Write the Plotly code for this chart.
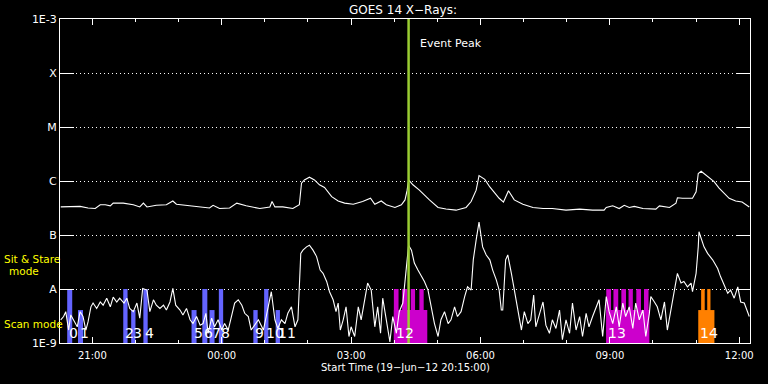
import plotly.graph_objects as go
import pandas as pd

# ---------------- data ----------------
start_time = "2012-06-19 20:15:00"
end_time = "2012-06-20 12:15:00"
event_peak = "2012-06-20 04:20:00"

# Long channel (1-8 A): minutes after start, log10 flux (W/m^2)
long_min = [1, 14, 28, 39, 49, 56, 63, 70, 74, 88, 102, 111, 116, 121, 134, 148, 157, 162, 176, 195,
            208, 213, 222, 236, 246, 259, 273, 278, 292, 295, 299, 310, 324, 333, 336, 340, 347, 354, 361, 368,
            378, 387, 396, 408, 421, 432, 438, 447, 454, 466, 475, 480, 483, 485, 491, 500, 514, 526, 537, 551,
            565, 572, 579, 583, 591, 598, 611, 617, 624, 632, 644, 658, 672, 685, 704, 723, 741, 757, 760, 769,
            778, 785, 792, 799, 811, 829, 834, 848, 857, 859, 866, 880, 885, 888, 892, 901, 910, 917, 931, 940,
            949, 959]
long_log = [-6.48, -6.48, -6.47, -6.50, -6.51, -6.44, -6.44, -6.46, -6.41, -6.41, -6.44, -6.48, -6.41, -6.48,
            -6.45, -6.44, -6.37, -6.43, -6.45, -6.48, -6.50, -6.45, -6.51, -6.50, -6.41, -6.46, -6.49, -6.51,
            -6.48, -6.38, -6.48, -6.48, -6.51, -6.44, -6.04, -5.98, -5.93, -5.98, -6.07, -6.12, -6.29, -6.37,
            -6.41, -6.43, -6.38, -6.32, -6.43, -6.37, -6.44, -6.49, -6.44, -6.35, -6.17, -5.98, -6.07, -6.17,
            -6.35, -6.49, -6.52, -6.54, -6.49, -6.38, -6.17, -5.90, -5.97, -6.11, -6.32, -6.39, -6.18, -6.35,
            -6.43, -6.49, -6.51, -6.51, -6.54, -6.52, -6.54, -6.54, -6.49, -6.46, -6.51, -6.45, -6.49, -6.47,
            -6.51, -6.52, -6.46, -6.49, -6.41, -6.31, -6.32, -6.32, -6.20, -5.86, -5.82, -5.92, -6.01, -6.13,
            -6.32, -6.37, -6.39, -6.48]

# Short channel (0.5-4 A): minutes after start, log10 flux
short_min = [1, 5, 8, 12, 15, 19, 24, 28, 32, 36, 39, 43, 46, 51, 56, 60, 65, 70, 74, 79,
             83, 89, 93, 97, 102, 107, 111, 115, 121, 125, 130, 134, 139, 144, 148, 153, 157, 161, 167, 171,
             176, 181, 185, 190, 195, 199, 203, 206, 211, 215, 220, 225, 229, 234, 239, 243, 248, 253, 257, 262,
             266, 271, 276, 283, 287, 292, 294, 299, 303, 308, 313, 317, 322, 327, 331, 335, 338, 343, 347, 352,
             357, 362, 366, 371, 375, 380, 384, 387, 390, 394, 398, 402, 405, 410, 415, 419, 424, 428, 433, 438,
             442, 446, 449, 454, 459, 463, 468, 472, 477, 482, 485, 489, 493, 498, 503, 507, 512, 517, 521, 526,
             530, 535, 540, 544, 549, 553, 558, 563, 567, 572, 575, 579, 583, 588, 593, 598, 602, 607, 611, 614,
             616, 620, 623, 628, 632, 637, 642, 646, 651, 655, 659, 662, 667, 672, 676, 681, 685, 690, 695, 699,
             704, 709, 713, 718, 723, 727, 732, 736, 741, 746, 750, 755, 760, 764, 769, 774, 778, 783, 787, 792,
             797, 801, 806, 811, 815, 820, 822, 827, 831, 836, 841, 845, 850, 855, 859, 864, 868, 873, 878, 880,
             885, 888, 889, 896, 901, 908, 915, 919, 924, 929, 933, 938, 943, 947, 952, 956, 959]
short_log = [-8.57, -8.51, -8.42, -8.76, -8.48, -8.57, -8.70, -8.42, -8.51, -8.76, -8.61, -8.33, -8.26, -8.36,
             -8.24, -8.30, -8.17, -8.33, -8.15, -8.24, -8.17, -8.26, -8.17, -8.36, -8.42, -8.26, -8.54, -7.99,
             -8.02, -8.42, -8.20, -8.30, -8.36, -8.30, -8.39, -8.24, -7.99, -8.30, -8.39, -8.48, -8.36, -8.57,
             -8.64, -8.51, -8.67, -8.64, -8.45, -8.82, -8.54, -8.70, -8.57, -8.76, -8.64, -8.76, -8.48, -8.26,
             -8.20, -8.30, -8.45, -8.51, -8.76, -8.67, -8.57, -8.76, -8.51, -8.20, -8.05, -8.57, -8.73, -8.57,
             -8.64, -8.45, -8.33, -8.70, -8.57, -7.34, -7.28, -7.22, -7.19, -7.28, -7.40, -7.65, -7.71, -7.86,
             -8.05, -8.20, -8.42, -8.26, -8.76, -8.57, -8.33, -8.88, -8.70, -8.88, -8.33, -8.57, -8.20, -7.89,
             -8.02, -8.70, -8.33, -8.82, -8.17, -8.57, -8.98, -8.51, -8.82, -8.42, -8.26, -7.59, -7.19, -7.28,
             -7.52, -7.65, -7.77, -7.86, -8.02, -8.33, -8.64, -8.88, -8.57, -8.42, -8.64, -8.57, -8.33, -8.51,
             -8.42, -8.14, -7.96, -8.02, -7.46, -7.09, -6.76, -7.22, -7.37, -7.46, -7.65, -7.83, -8.02, -8.39,
             -8.39, -7.46, -7.37, -7.71, -8.02, -8.39, -8.76, -8.42, -8.64, -8.57, -8.11, -8.70, -8.45, -8.24,
             -8.67, -8.82, -8.57, -8.73, -8.39, -8.94, -8.57, -8.82, -8.26, -8.76, -8.51, -8.88, -8.45, -8.70,
             -8.51, -8.33, -8.20, -8.88, -8.14, -8.42, -8.64, -8.33, -8.70, -8.26, -8.51, -8.33, -8.73, -8.26,
             -8.57, -8.39, -8.88, -8.45, -8.14, -8.24, -8.33, -8.57, -8.24, -8.76, -8.39, -8.08, -7.71, -7.89,
             -7.86, -7.96, -7.89, -8.05, -7.71, -7.22, -6.94, -7.22, -7.34, -7.46, -7.62, -7.77, -7.93, -8.08,
             -8.02, -8.17, -7.96, -8.24, -8.26, -8.42, -8.51]

# Observing-mode segments (start, end, mode, group colour)
mode_start = ["2012-06-19 20:25:00", "2012-06-19 20:40:00", "2012-06-19 21:43:00", "2012-06-19 21:54:00",
              "2012-06-19 22:11:00", "2012-06-19 23:18:00", "2012-06-19 23:33:00", "2012-06-19 23:43:00",
              "2012-06-19 23:56:00", "2012-06-20 00:44:00", "2012-06-20 00:59:00", "2012-06-20 01:15:00",
              "2012-06-20 03:59:30", "2012-06-20 03:59:30", "2012-06-20 04:11:00", "2012-06-20 04:23:00",
              "2012-06-20 04:35:00",
              "2012-06-20 08:55:00", "2012-06-20 08:55:00", "2012-06-20 09:05:00", "2012-06-20 09:16:00",
              "2012-06-20 09:26:00", "2012-06-20 09:36:50", "2012-06-20 09:47:30",
              "2012-06-20 11:03:00", "2012-06-20 11:07:00", "2012-06-20 11:15:30"]
mode_end = ["2012-06-19 20:32:00", "2012-06-19 20:47:00", "2012-06-19 21:49:00", "2012-06-19 22:00:00",
            "2012-06-19 22:17:00", "2012-06-19 23:25:00", "2012-06-19 23:40:00", "2012-06-19 23:50:00",
            "2012-06-20 00:02:00", "2012-06-20 00:50:00", "2012-06-20 01:05:00", "2012-06-20 01:21:00",
            "2012-06-20 04:46:00", "2012-06-20 04:06:00", "2012-06-20 04:18:00", "2012-06-20 04:29:00",
            "2012-06-20 04:41:00",
            "2012-06-20 09:55:00", "2012-06-20 09:01:40", "2012-06-20 09:11:40", "2012-06-20 09:22:30",
            "2012-06-20 09:32:00", "2012-06-20 09:43:20", "2012-06-20 09:53:50",
            "2012-06-20 11:25:30", "2012-06-20 11:12:00", "2012-06-20 11:20:00"]
mode_kind = ["stare", "scan", "stare", "scan", "stare", "scan", "stare", "scan", "stare", "scan", "stare", "scan",
             "scan", "stare", "stare", "stare", "stare",
             "scan", "stare", "stare", "stare", "stare", "stare", "stare",
             "scan", "stare", "stare"]
mode_group = ["blue"] * 12 + ["magenta"] * 5 + ["magenta"] * 7 + ["orange"] * 3
mode_level = {"stare": -8.0, "scan": -8.39}
axis_floor = -9.0

event_labels = ["0", "1", "2", "3", "4", "5", "6", "7", "8", "9", "10", "11", "12", "13", "14"]
event_label_time = ["2012-06-19 20:25:00", "2012-06-19 20:40:00", "2012-06-19 21:43:00", "2012-06-19 21:54:00",
                    "2012-06-19 22:11:00", "2012-06-19 23:18:00", "2012-06-19 23:33:00", "2012-06-19 23:43:00",
                    "2012-06-19 23:56:00", "2012-06-20 00:44:00", "2012-06-20 00:59:00", "2012-06-20 01:15:00",
                    "2012-06-20 03:59:30", "2012-06-20 08:55:00", "2012-06-20 11:03:00"]

y_tickvals = [-9, -8, -7, -6, -5, -4, -3]
y_ticktext = ["1E-9", "A", "B", "C", "M", "X", "1E-3"]

# ---------------- figure ----------------
t0 = pd.Timestamp(start_time)
long_t = t0 + pd.to_timedelta(long_min, unit="min")
short_t = t0 + pd.to_timedelta(short_min, unit="min")

colors = {"blue": "#6464ff", "magenta": "#cc00cc", "orange": "#ff8000"}
FONT = "DejaVu Sans"

fig = go.Figure()

for g in ["blue", "magenta", "orange"]:
    idx = [i for i, gg in enumerate(mode_group) if gg == g]
    s = pd.to_datetime([mode_start[i] for i in idx])
    e = pd.to_datetime([mode_end[i] for i in idx])
    mid = s + (e - s) / 2
    widths = [(b - a).total_seconds() * 1000 for a, b in zip(s, e)]
    tops = [mode_level[mode_kind[i]] - axis_floor for i in idx]
    fig.add_trace(go.Bar(x=mid, y=tops, base=axis_floor, width=widths,
                         marker=dict(color=colors[g], line=dict(width=0)),
                         hoverinfo="skip", showlegend=False))

fig.add_trace(go.Scatter(x=long_t, y=long_log, mode="lines",
                         line=dict(color="white", width=1.1), showlegend=False))
fig.add_trace(go.Scatter(x=short_t, y=short_log, mode="lines",
                         line=dict(color="white", width=1.1), showlegend=False))
fig.add_trace(go.Scatter(x=[event_peak, event_peak], y=[-9, -3], mode="lines",
                         line=dict(color="#9acd32", width=2.5), showlegend=False))

annotations = []
for lab, t in zip(event_labels, event_label_time):
    annotations.append(dict(x=t, y=-8.81, xref="x", yref="y", text=lab, showarrow=False,
                            xanchor="left", yanchor="middle",
                            font=dict(family=FONT, size=14, color="white")))
annotations.append(dict(x=event_peak, y=-3.45, xref="x", yref="y", text="Event Peak", showarrow=False,
                        xanchor="left", yanchor="middle", xshift=9,
                        font=dict(family=FONT, size=11, color="white")))
annotations.append(dict(x=0.5, y=1.0287, xref="paper", yref="paper", text="GOES 14 X\u2212Rays:",
                        showarrow=False, xanchor="center", yanchor="middle", xshift=-2,
                        font=dict(family=FONT, size=12, color="white")))
annotations.append(dict(x=0.5, y=-0.0763, xref="paper", yref="paper",
                        text="Start Time (19\u2212Jun\u221212 20:15:00)",
                        showarrow=False, xanchor="center", yanchor="middle",
                        font=dict(family=FONT, size=10, color="white")))
annotations.append(dict(x=-0.084, y=-7.444, xref="paper", yref="y", text="Sit &amp; Stare",
                        showarrow=False, xanchor="left", yanchor="middle",
                        font=dict(family=FONT, size=10.5, color="yellow")))
annotations.append(dict(x=-0.0517, y=-7.667, xref="paper", yref="y", text="mode",
                        showarrow=False, xanchor="center", yanchor="middle",
                        font=dict(family=FONT, size=10.5, color="yellow")))
annotations.append(dict(x=-0.084, y=-8.648, xref="paper", yref="y", text="Scan mode",
                        showarrow=False, xanchor="left", yanchor="middle",
                        font=dict(family=FONT, size=10.5, color="yellow")))

fig.update_layout(
    width=768, height=384,
    margin=dict(l=60, r=18, t=19, b=41),
    paper_bgcolor="black", plot_bgcolor="black",
    barmode="overlay", showlegend=False,
    annotations=annotations,
    font=dict(family=FONT, color="white"),
)
fig.update_xaxes(
    type="date", range=[start_time, end_time],
    tick0="2012-06-19 21:00:00", dtick=3 * 3600 * 1000, tickformat="%H:%M",
    ticks="inside", ticklen=6, tickcolor="white", tickwidth=1,
    minor=dict(dtick=3600 * 1000, ticks="inside", ticklen=3, tickcolor="white", tickwidth=1, showgrid=False),
    showline=True, linecolor="white", linewidth=1, mirror="ticks",
    showgrid=False, zeroline=False, ticklabelstandoff=3,
    tickfont=dict(family=FONT, size=10, color="white"),
)
fig.update_yaxes(
    range=[-9, -3], tickvals=y_tickvals, ticktext=y_ticktext,
    ticks="inside", ticklen=14, tickcolor="white", tickwidth=1,
    showline=True, linecolor="white", linewidth=1, mirror="ticks",
    showgrid=True, gridcolor="white", gridwidth=1, griddash="1px,3px",
    zeroline=False,
    tickfont=dict(family=FONT, size=11, color="white"),
)

fig.write_html("out.html")
